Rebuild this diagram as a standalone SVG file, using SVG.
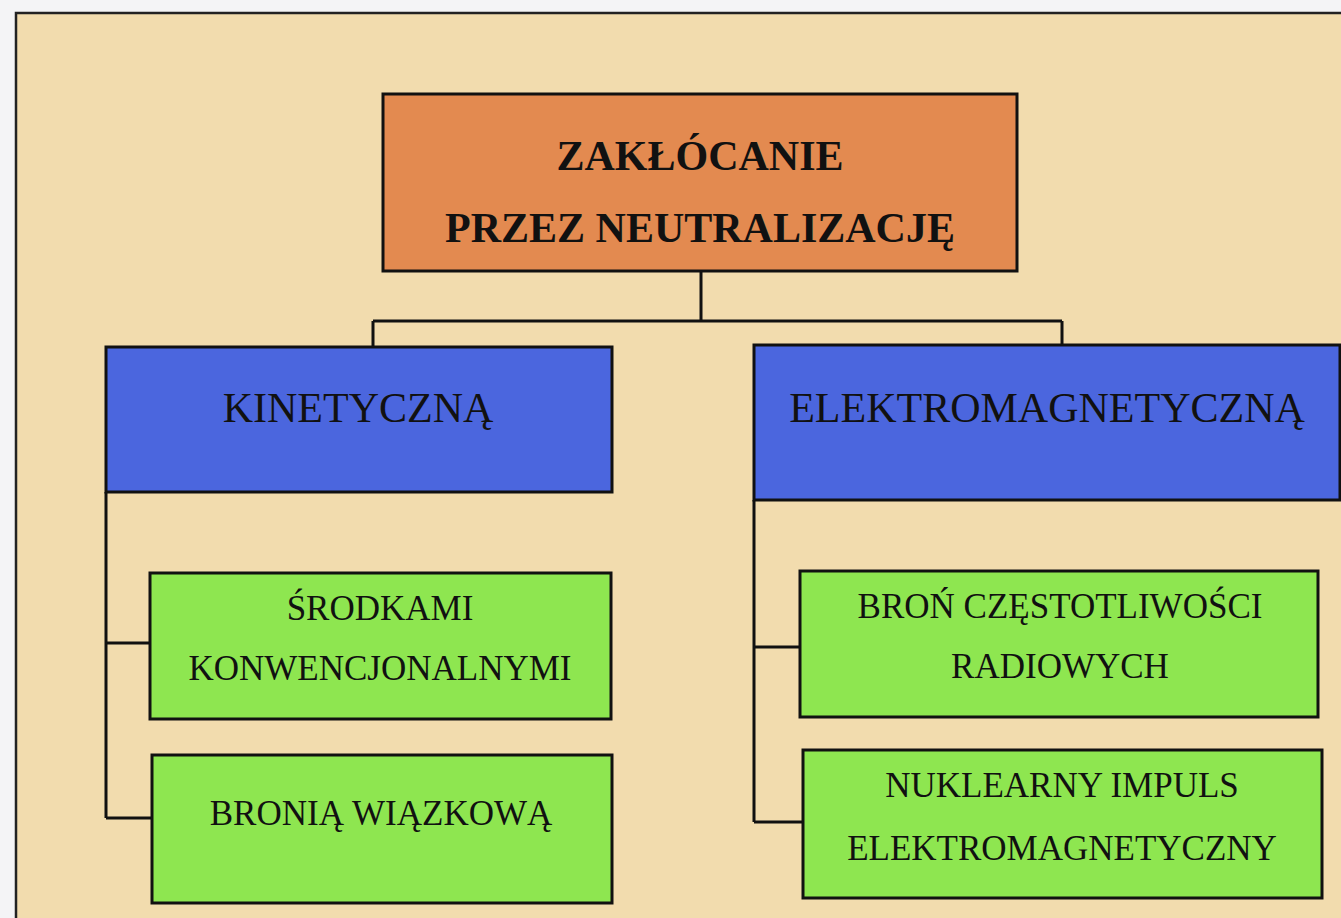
<svg xmlns="http://www.w3.org/2000/svg" width="1341" height="918" viewBox="0 0 1341 918">
<style>
.box{stroke:#111;stroke-width:3}
.org{fill:#e38a50}
.blu{fill:#4b66de}
.grn{fill:#8ee650}
.t{font-family:"Liberation Serif","Times New Roman",serif;fill:#111;text-anchor:middle}
.tb{font-weight:bold;font-size:42px}
.tm{font-size:42px}
.ts{font-size:35px}
.con{fill:none;stroke:#111;stroke-width:3}
</style>
<rect x="0" y="0" width="1341" height="918" fill="#f4f4f6"/>
<rect x="16" y="13" width="1330" height="910" fill="#f2dcae" stroke="#222" stroke-width="2.5"/>
<g id="connectors">
<path class="con" d="M701 271V321M373 321H1062M373 321V347M1062 321V345"/>
<path class="con" d="M106 492V818M106 643H150M106 818H152"/>
<path class="con" d="M754 500V822M754 647H808M754 822H810"/>
</g>
<g id="root">
<rect class="box org" x="383" y="94" width="634" height="177"/>
<text class="t tb" x="700" y="170">ZAKŁÓCANIE</text>
<text class="t tb" x="700" y="242">PRZEZ NEUTRALIZACJĘ</text>
</g>
<g id="kinetyczna">
<rect class="box blu" x="106" y="347" width="506" height="145"/>
<text class="t tm" x="358" y="422">KINETYCZNĄ</text>
</g>
<g id="elektromagnetyczna">
<rect class="box blu" x="754" y="345" width="586" height="155"/>
<text class="t tm" x="1047" y="422">ELEKTROMAGNETYCZNĄ</text>
</g>
<g id="srodkami">
<rect class="box grn" x="150" y="573" width="461" height="146"/>
<text class="t ts" x="380" y="620">ŚRODKAMI</text>
<text class="t ts" x="380" y="680">KONWENCJONALNYMI</text>
</g>
<g id="bronia">
<rect class="box grn" x="152" y="755" width="460" height="148"/>
<text class="t ts" x="381" y="825">BRONIĄ WIĄZKOWĄ</text>
</g>
<g id="bron-czestotliwosci">
<rect class="box grn" x="800" y="571" width="518" height="146"/>
<text class="t ts" x="1060" y="618">BROŃ CZĘSTOTLIWOŚCI</text>
<text class="t ts" x="1060" y="678">RADIOWYCH</text>
</g>
<g id="nuklearny">
<rect class="box grn" x="803" y="750" width="519" height="148"/>
<text class="t ts" x="1062" y="797">NUKLEARNY IMPULS</text>
<text class="t ts" x="1062" y="860">ELEKTROMAGNETYCZNY</text>
</g>
</svg>
